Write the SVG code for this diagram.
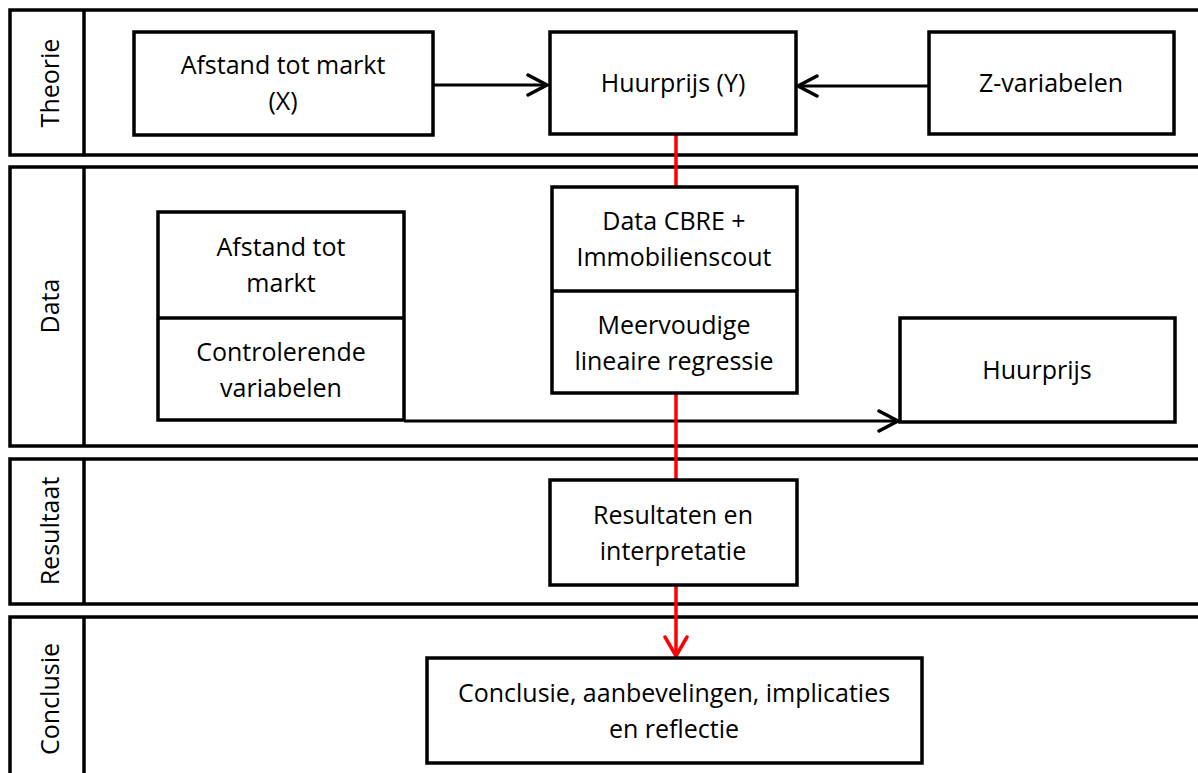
<svg xmlns="http://www.w3.org/2000/svg" width="1198" height="773" viewBox="0 0 1198 773">
<defs>
<marker id="ah" markerUnits="userSpaceOnUse" markerWidth="26" markerHeight="26" refX="21" refY="13" orient="auto" viewBox="0 0 26 26">
<path d="M2,3 L21,13 L2,23" fill="none" stroke="#000" stroke-width="3.5" stroke-linecap="round" stroke-linejoin="miter"/>
</marker>
<marker id="ahr" markerUnits="userSpaceOnUse" markerWidth="26" markerHeight="26" refX="21" refY="13" orient="auto" viewBox="0 0 26 26">
<path d="M2,2 L21,13 L2,24" fill="none" stroke="#FF0000" stroke-width="3.5" stroke-linecap="round" stroke-linejoin="miter"/>
</marker>
</defs>
<style>
.lane{fill:#fff;stroke:#000;stroke-width:3.5}
.box{fill:#fff;stroke:#000;stroke-width:3.5}
.t{font-family:"Open Sans","Liberation Sans",sans-serif;font-size:25px;fill:#000;text-anchor:middle}
.c{fill:none;stroke:#000;stroke-width:3}
.r{fill:none;stroke:#FF0000;stroke-width:3.5}
</style>
<rect width="1198" height="773" fill="#fff"/>
<g id="lane-theorie">
<rect class="lane" x="10" y="10" width="1210" height="145"/>
<line class="lane" x1="84" y1="10" x2="84" y2="155"/>
<text class="t" transform="translate(59,83) rotate(-90)">Theorie</text>
</g>
<g id="lane-data">
<rect class="lane" x="10" y="167" width="1210" height="279"/>
<line class="lane" x1="84" y1="167" x2="84" y2="446"/>
<text class="t" transform="translate(59,306) rotate(-90)">Data</text>
</g>
<g id="lane-resultaat">
<rect class="lane" x="10" y="459" width="1210" height="145"/>
<line class="lane" x1="84" y1="459" x2="84" y2="604"/>
<text class="t" transform="translate(59,531) rotate(-90)">Resultaat</text>
</g>
<g id="lane-conclusie">
<rect class="lane" x="10" y="617" width="1210" height="180"/>
<line class="lane" x1="84" y1="617" x2="84" y2="797"/>
<text class="t" transform="translate(59,699) rotate(-90)">Conclusie</text>
</g>
<g id="connectors">
<line class="c" x1="433" y1="85" x2="547" y2="85" marker-end="url(#ah)"/>
<line class="c" x1="929" y1="86" x2="798" y2="86" marker-end="url(#ah)"/>
<line class="c" x1="404" y1="421" x2="898" y2="421" marker-end="url(#ah)"/>
<line class="r" x1="676" y1="134" x2="676" y2="187"/>
<line class="r" x1="676" y1="393" x2="676" y2="480"/>
<line class="r" x1="676" y1="585" x2="676" y2="656" marker-end="url(#ahr)"/>
</g>
<g id="node-afstand-x">
<rect class="box" x="134" y="32" width="299" height="103"/>
<text class="t" x="283" y="74">Afstand tot markt</text>
<text class="t" x="283" y="110">(X)</text>
</g>
<g id="node-huurprijs-y">
<rect class="box" x="550" y="32" width="246" height="102"/>
<text class="t" x="673" y="92">Huurprijs (Y)</text>
</g>
<g id="node-z">
<rect class="box" x="929" y="32" width="245" height="102"/>
<text class="t" x="1051" y="92">Z-variabelen</text>
</g>
<g id="node-data-cbre">
<rect class="box" x="552" y="187" width="245" height="206"/>
<line class="box" x1="552" y1="291" x2="797" y2="291"/>
<text class="t" x="674" y="230">Data CBRE +</text>
<text class="t" x="674" y="266">Immobilienscout</text>
<text class="t" x="674" y="334">Meervoudige</text>
<text class="t" x="674" y="370">lineaire regressie</text>
</g>
<g id="node-afstand-data">
<rect class="box" x="158" y="212" width="246" height="208"/>
<line class="box" x1="158" y1="318" x2="404" y2="318"/>
<text class="t" x="281" y="256">Afstand tot</text>
<text class="t" x="281" y="292">markt</text>
<text class="t" x="281" y="361">Controlerende</text>
<text class="t" x="281" y="397">variabelen</text>
</g>
<g id="node-huurprijs">
<rect class="box" x="900" y="318" width="275" height="104"/>
<text class="t" x="1037" y="379">Huurprijs</text>
</g>
<g id="node-resultaten">
<rect class="box" x="550" y="480" width="247" height="105"/>
<text class="t" x="673" y="524">Resultaten en</text>
<text class="t" x="673" y="560">interpretatie</text>
</g>
<g id="node-conclusie">
<rect class="box" x="427" y="658" width="495" height="105"/>
<text class="t" x="674" y="702">Conclusie, aanbevelingen, implicaties</text>
<text class="t" x="674" y="738">en reflectie</text>
</g>
</svg>
